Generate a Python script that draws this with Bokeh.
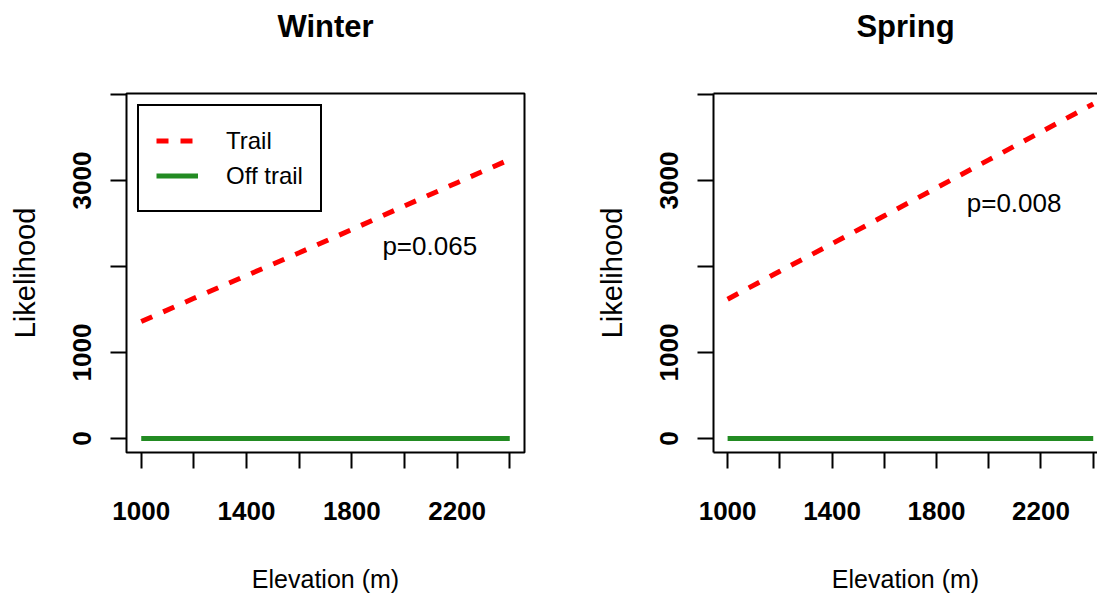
from bokeh.plotting import figure
from bokeh.models import Range1d, FixedTicker, Label, Legend, LegendItem, LinearAxis
from bokeh.layouts import row
from bokeh.embed import file_html
from bokeh.resources import INLINE

# ---- data ----
elevation = [1000, 1200, 1400, 1600, 1800, 2000, 2200, 2400]
winter_trail = [1360, 1630, 1895, 2160, 2430, 2705, 2975, 3245]
winter_off = [0, 0, 0, 0, 0, 0, 0, 0]
spring_trail = [1620, 1945, 2265, 2590, 2915, 3240, 3565, 3890]
spring_off = [0, 0, 0, 0, 0, 0, 0, 0]

x_ticks = [1000, 1200, 1400, 1600, 1800, 2000, 2200, 2400]
x_tick_labels = {1000: "1000", 1200: "", 1400: "1400", 1600: "", 1800: "1800",
                 2000: "", 2200: "2200", 2400: ""}
y_ticks = [0, 1000, 2000, 3000, 4000]
y_tick_labels = {0: "0", 1000: "1000", 2000: "", 3000: "3000", 4000: ""}

panels = [
    dict(title="Winter", trail=winter_trail, off=winter_off, ptext="p=0.065",
         px=2096, py=2244),
    dict(title="Spring", trail=spring_trail, off=spring_off, ptext="p=0.008",
         px=2097, py=2733),
]

FONT = "Liberation Sans"
RED = "#FF0000"
GREEN = "#228B22"
Y0, Y1 = -163, 4012


def make_panel(cfg, width, x_start, x_end, right_panel):
    p = figure(width=width, height=598, output_backend="svg", toolbar_location=None,
               x_range=Range1d(x_start, x_end), y_range=Range1d(Y0, Y1),
               min_border_left=(118 if right_panel else 126),
               min_border_right=(0 if right_panel else 68),
               min_border_top=93, min_border_bottom=146)
    p.grid.visible = False
    p.background_fill_color = "white"
    p.border_fill_color = "white"

    tr = p.line(elevation, cfg["trail"], line_color=RED, line_width=5,
                line_dash="12 12")
    of = p.line(elevation, cfg["off"], line_color=GREEN, line_width=5)

    xa = p.below[0]
    ya = p.left[0]

    # panel title as the label of an empty top axis
    top = LinearAxis(ticker=FixedTicker(ticks=[]), axis_label=cfg["title"])
    top.major_tick_in = 0
    top.major_tick_out = 16
    top.major_tick_line_color = None
    top.minor_tick_line_color = None
    top.major_label_standoff = 0
    top.axis_label_standoff = 50
    top.axis_label_text_font = FONT
    top.axis_label_text_font_size = "31px"
    top.axis_label_text_font_style = "bold"
    top.axis_label_text_color = "black"
    if right_panel:
        top.axis_line_color = "black"
        top.axis_line_width = 2
    else:
        top.axis_line_color = None
    p.add_layout(top, "above")

    p.add_layout(Label(x=cfg["px"], y=cfg["py"], text=cfg["ptext"],
                       text_align="center", text_baseline="middle",
                       text_font=FONT, text_font_size="26px", text_color="black"))

    for ax in (xa, ya):
        ax.major_tick_in = 0
        ax.major_tick_out = 16
        ax.major_tick_line_width = 2
        ax.major_tick_line_color = "black"
        ax.minor_tick_line_color = None
        ax.major_label_text_font = FONT
        ax.major_label_text_font_style = "bold"
        ax.major_label_text_font_size = "26px"
        ax.major_label_text_color = "black"
        ax.axis_label_text_font = FONT
        ax.axis_label_text_font_style = "normal"
        ax.axis_label_text_color = "black"

    xa.ticker = FixedTicker(ticks=x_ticks)
    xa.major_label_overrides = x_tick_labels
    xa.axis_label = "Elevation (m)"
    xa.axis_label_text_font_size = "25px"
    xa.major_label_standoff = 33
    xa.axis_label_standoff = 42

    ya.ticker = FixedTicker(ticks=y_ticks)
    ya.major_label_overrides = y_tick_labels
    ya.major_label_orientation = "vertical"
    ya.axis_label = "Likelihood"
    ya.axis_label_text_font_size = "29px"
    ya.major_label_standoff = 19
    ya.axis_label_standoff = 30

    if right_panel:
        p.outline_line_color = None
        for ax in (xa, ya):
            ax.axis_line_color = "black"
            ax.axis_line_width = 2
    else:
        p.outline_line_color = "black"
        p.outline_line_width = 2
        p.outline_line_alpha = 1
        for ax in (xa, ya):
            ax.axis_line_color = None

        leg = Legend(items=[LegendItem(label="Trail", renderers=[tr]),
                            LegendItem(label="Off trail", renderers=[of])],
                     location="top_left")
        leg.margin = 11
        leg.padding = 17
        leg.spacing = 0
        leg.label_height = 35
        leg.glyph_height = 35
        leg.glyph_width = 42
        leg.label_standoff = 28
        leg.label_text_font = FONT
        leg.label_text_font_size = "24px"
        leg.label_text_color = "black"
        leg.border_line_color = "black"
        leg.border_line_width = 2
        leg.border_line_alpha = 1
        leg.background_fill_color = "white"
        leg.background_fill_alpha = 1
        p.add_layout(leg)
    return p


left = make_panel(panels[0], 592, 944, 2456, False)
right = make_panel(panels[1], 505, 946, 946 + 387 / 0.2632, True)

layout = row(left, right, spacing=0)
open("out.html", "w").write(file_html(layout, INLINE))
